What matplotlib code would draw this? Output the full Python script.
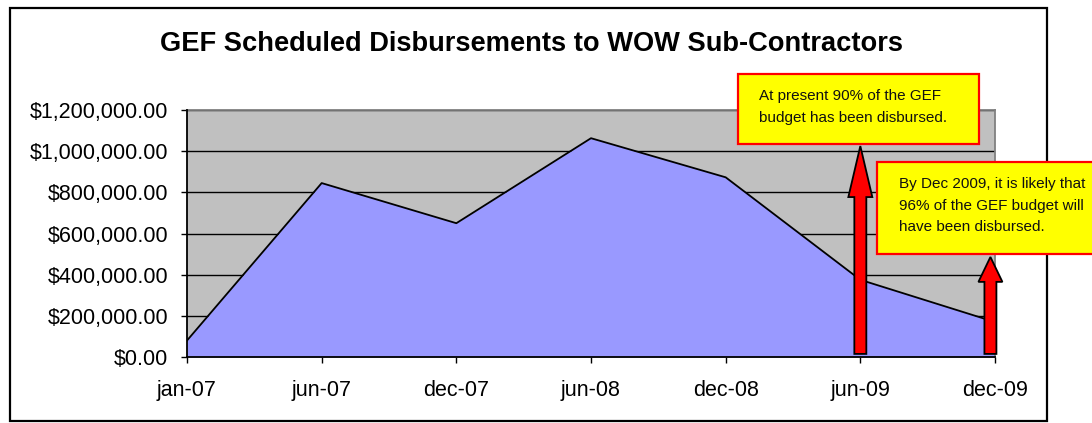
import matplotlib
matplotlib.use("Agg")
import matplotlib.pyplot as plt
import matplotlib.patches as mpatches
import numpy as np

# data
labels = ['jan-07', 'jun-07', 'dec-07', 'jun-08', 'dec-08', 'jun-09', 'dec-09']
disbursed = [80000, 845000, 650000, 1063000, 873000, 375000, 170000]

# callouts: (x position, arrow bottom, arrow tip, head length)
arrow_x = [5.0, 5.966]
arrow_bottom = [15000, 15000]
arrow_tip = [1025000, 486000]
arrow_head = [248000, 121000]
note1 = "At present 90% of the GEF\nbudget has been disbursed."
note2 = "By Dec 2009, it is likely that\n96% of the GEF budget will\nhave been disbursed."

plt.rcParams['font.family'] = ['Liberation Sans', 'DejaVu Sans']

W, H = 1092, 423
fig = plt.figure(figsize=(W / 100, H / 100), dpi=100)
fig.patch.set_facecolor('white')

def px(x0, y0, x1, y1):
    # pixel box -> figure fraction rect
    return [x0 / W, 1 - y1 / H, (x1 - x0) / W, (y1 - y0) / H]

ax = fig.add_axes(px(187, 110, 995, 357))
ax.set_facecolor('#C0C0C0')

x = np.arange(len(labels))
ax.fill_between(x, disbursed, 0, color='#9999FF', zorder=2, linewidth=0)
ax.plot(x, disbursed, color='black', linewidth=1.3, zorder=3)

ax.set_xlim(0, len(labels) - 1)
ax.set_ylim(0, 1200000)
ax.set_yticks(np.arange(0, 1200001, 200000))
ax.set_yticklabels(['${:,.2f}'.format(v) for v in np.arange(0, 1200001, 200000)])
ax.set_xticks(x)
ax.set_xticklabels(labels)
ax.yaxis.grid(True, color='black', linewidth=1, zorder=1)
ax.set_axisbelow(True)
ax.tick_params(axis='both', direction='out', length=4.5, width=1, colors='black',
               labelsize=15.5)
ax.tick_params(axis='y', pad=9)
ax.tick_params(axis='x', pad=12)
for s in ['left', 'bottom']:
    ax.spines[s].set_color('black')
    ax.spines[s].set_linewidth(1.3)
    ax.spines[s].set_zorder(4)
for s in ['top', 'right']:
    ax.spines[s].set_color('#808080')
    ax.spines[s].set_linewidth(1.3)

fig.text(532 / W, 1 - 44 / H, 'GEF Scheduled Disbursements to WOW Sub-Contractors',
         ha='center', va='center', fontsize=19.6, fontweight='bold')

# outer chart frame
fr = px(10, 8, 1047, 421)
fig.patches.append(mpatches.Rectangle(fr[:2], fr[2], fr[3], transform=fig.transFigure,
                                      fill=False, edgecolor='black', linewidth=1.6))

# arrows
for ax_x, yb, yt, hl in zip(arrow_x, arrow_bottom, arrow_tip, arrow_head):
    arr = mpatches.FancyArrow(ax_x, yb, 0, yt - yb, width=0.089, head_width=0.178,
                              head_length=hl, length_includes_head=True,
                              facecolor='#FF0000', edgecolor='black', linewidth=1.3,
                              zorder=6, clip_on=False)
    ax.add_patch(arr)

# note boxes
for box, txt, tx, ty in [((738, 74, 979, 144), note1, 759, 107),
                         ((877, 162, 1096, 254), note2, 899, 205.5)]:
    r = px(*box)
    fig.patches.append(mpatches.Rectangle(r[:2], r[2], r[3], transform=fig.transFigure,
                                          facecolor='#FFFF00', edgecolor='#FF0000',
                                          linewidth=1.6, zorder=7))
    fig.text(tx / W, 1 - ty / H, txt, ha='left', va='center', fontsize=11,
             linespacing=1.7, zorder=8, color='#111111')

fig.savefig('out.png', dpi=100, facecolor='white')
